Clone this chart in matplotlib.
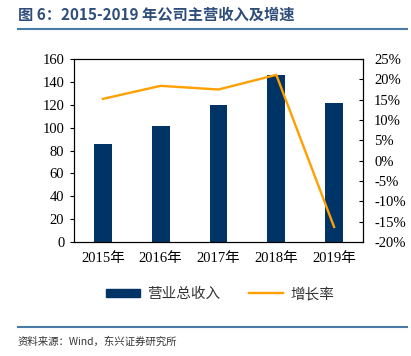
import matplotlib
matplotlib.use("Agg")
import matplotlib.pyplot as plt
from matplotlib.lines import Line2D
from matplotlib.patches import Patch

years = ["2015年", "2016年", "2017年", "2018年", "2019年"]
revenue = [85.7, 101.4, 119.8, 146.0, 121.8]
growth = [15.2, 18.4, 17.5, 21.1, -16.3]

bar_color = "#003366"
line_color = "#FFA000"
serif = ["Liberation Serif", "Noto Sans CJK SC"]
cjk = ["Noto Sans CJK SC", "DejaVu Sans"]


def main():
    plt.rcParams["font.family"] = serif
    fig = plt.figure(figsize=(4.11, 3.56), dpi=100)
    W, H = 411, 356
    ax = fig.add_axes([74 / W, 1 - 242 / H, (363 - 74) / W, (242 - 59) / H])

    x = list(range(len(years)))
    ax.bar(x, revenue, width=0.31, color=bar_color, zorder=2)
    ax.set_xlim(-0.5, len(years) - 0.5)
    ax.set_ylim(0, 160)
    ax.set_yticks(range(0, 161, 20))
    ax.set_xticks(x)
    ax.set_xticklabels(years)
    ax.tick_params(axis="x", length=0, pad=7, labelsize=10.5)
    ax.tick_params(axis="y", direction="out", length=3, labelsize=10.5, pad=4)

    ax2 = ax.twinx()
    ax2.plot(x, growth, color=line_color, linewidth=1.7, zorder=3)
    ax2.set_ylim(-20, 25)
    ax2.set_yticks(range(-20, 26, 5))
    ax2.set_yticklabels([f"{v}%" for v in range(-20, 26, 5)])
    ax2.tick_params(axis="y", direction="in", length=3, labelsize=10.5, pad=8)

    for a in (ax, ax2):
        for s in a.spines.values():
            s.set_linewidth(0.8)
            s.set_color("black")

    handles = [Patch(color=bar_color), Line2D([0], [0], color=line_color, lw=1.7)]
    fig.legend(handles, ["营业总收入", "增长率"], loc="center",
               bbox_to_anchor=(220 / W, 1 - 294 / H), ncol=2, frameon=False,
               prop={"family": cjk, "size": 10.5}, handlelength=2.3,
               handleheight=0.5, columnspacing=2.0, handletextpad=0.5,
               labelcolor="#333333")

    fig.text(18 / W, 1 - 15 / H, "图 6：2015-2019 年公司主营收入及增速",
             family=cjk, fontsize=11, fontweight="bold", color="#2E4D7B",
             va="center", ha="left")
    fig.add_artist(Line2D([18 / W, 407 / W], [1 - 29 / H, 1 - 29 / H],
                          color="#4A7BA7", lw=1.5))
    fig.add_artist(Line2D([18 / W, 407 / W], [1 - 327 / H, 1 - 327 / H],
                          color="#4A7BA7", lw=1.5))
    fig.text(18 / W, 1 - 342 / H, "资料来源：Wind，东兴证券研究所",
             family=cjk, fontsize=7.5, style="italic", color="#333333",
             va="center", ha="left")

    fig.savefig("out.png", dpi=100)
    return 0


if __name__ == '__main__':
    main()
